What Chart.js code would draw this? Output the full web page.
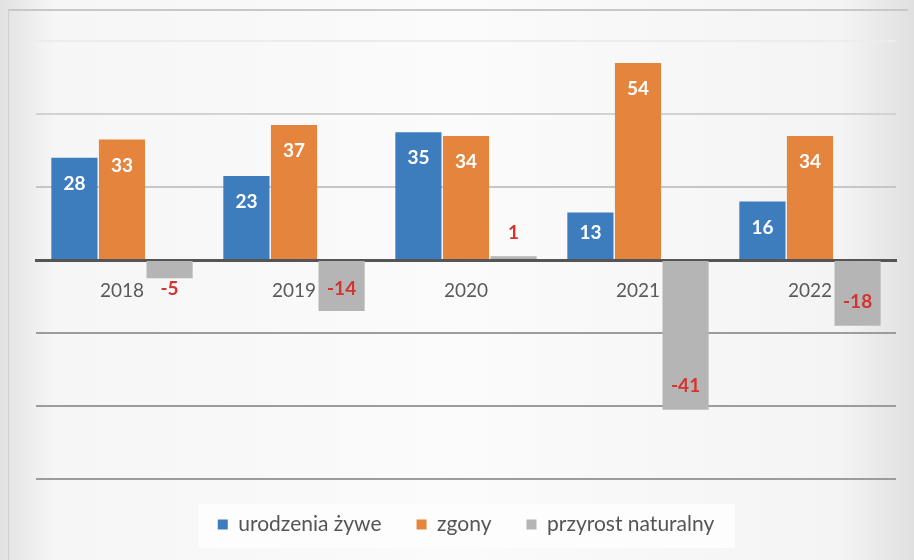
<!DOCTYPE html>
<html>
<head>
<meta charset="utf-8">
<script src="https://cdn.jsdelivr.net/npm/chart.js@4"></script>
<style>
  html, body { margin: 0; padding: 0; background: #dedede; }
  #wrap {
    position: relative; width: 914px; height: 560px;
    background: linear-gradient(to right, #e2e2e2 0%, #f6f6f6 6%, #fbfbfb 50%, #f4f4f4 92%, #e0e0e0 100%);
  }
  #frame {
    position: absolute; left: 8px; top: 9px; right: 6px; bottom: 0;
    border-top: 2px solid #c8c8c8; border-left: 1px solid #d0d0d0;
  }
  #legendBox {
    position: absolute; left: 198px; top: 504px; width: 537px; height: 44px; background: #fdfdfd;
  }
  canvas { position: absolute; left: 0; top: 0; }
</style>
</head>
<body>
<div id="wrap">
  <div id="frame"></div>
  <div id="legendBox"></div>
  <canvas id="chart" width="914" height="560"></canvas>
</div>
<script>
// lata i wartości
const years = ['2018', '2019', '2020', '2021', '2022'];
const urodzenia = [28, 23, 35, 13, 16];
const zgony = [33, 37, 34, 54, 34];
const przyrost = [-5, -14, 1, -41, -18];

const seriesNames = ['urodzenia żywe', 'zgony', 'przyrost naturalny'];
const colors = ['#3d7dbd', '#e5843d', '#b5b5b5'];
const labelColors = ['#ffffff', '#ffffff', '#d43330'];

// labels drawn near bar end, kept away from zero line
const barLabels = {
  id: 'barLabels',
  afterDatasetsDraw(c) {
    const ctx = c.ctx;
    const zeroY = c.scales.y.getPixelForValue(0);
    ctx.save();
    ctx.font = 'bold 19px Lato, "Open Sans", sans-serif';
    ctx.textAlign = 'center';
    ctx.textBaseline = 'middle';
    c.data.datasets.forEach((ds, i) => {
      const meta = c.getDatasetMeta(i);
      meta.data.forEach((bar, j) => {
        const v = ds.data[j];
        let y;
        if (v >= 0) {
          y = Math.min(bar.y + 26, zeroY - 27);
        } else {
          y = Math.max(bar.y - 24, zeroY + 29);
        }
        ctx.fillStyle = labelColors[i];
        ctx.fillText(String(v), bar.x, y);
      });
    });
    ctx.restore();
  }
};

// scan is faded at the top, darker lower down
function gridColor(c) {
  const v = c.tick && c.tick.value;
  if (v >= 60) return '#ececec';
  if (v >= 40) return '#d2d2d2';
  if (v > 0) return '#c6c6c6';
  return '#9c9c9c';
}

const ctx = document.getElementById('chart').getContext('2d');
new Chart(ctx, {
  type: 'bar',
  data: {
    labels: years,
    datasets: [
      { label: seriesNames[0], data: urodzenia, backgroundColor: colors[0] },
      { label: seriesNames[1], data: zgony, backgroundColor: colors[1] },
      { label: seriesNames[2], data: przyrost, backgroundColor: colors[2] }
    ]
  },
  options: {
    responsive: false,
    animation: false,
    layout: { padding: { top: 41, left: 36, right: 18, bottom: 15 } },
    datasets: { bar: { barPercentage: 0.97, categoryPercentage: 0.83 } },
    scales: {
      x: {
        position: { y: 0 },
        grid: { display: false },
        border: { display: true, color: '#555555', width: 3 },
        ticks: {
          padding: 11,
          color: '#5a5a5a',
          font: { family: 'Lato, "Open Sans", sans-serif', size: 19 }
        }
      },
      y: {
        min: -60,
        max: 60,
        afterFit(s) { s.width = 0; },
        ticks: { display: false, stepSize: 20 },
        border: { display: false },
        grid: { color: gridColor, lineWidth: 2, drawTicks: false }
      }
    },
    plugins: {
      tooltip: { enabled: false },
      legend: {
        position: 'bottom',
        labels: {
          boxWidth: 10,
          boxHeight: 10,
          padding: 35,
          color: '#555555',
          font: { family: 'Lato, "Open Sans", sans-serif', size: 21 }
        }
      }
    }
  },
  plugins: [barLabels]
});
</script>
</body>
</html>
